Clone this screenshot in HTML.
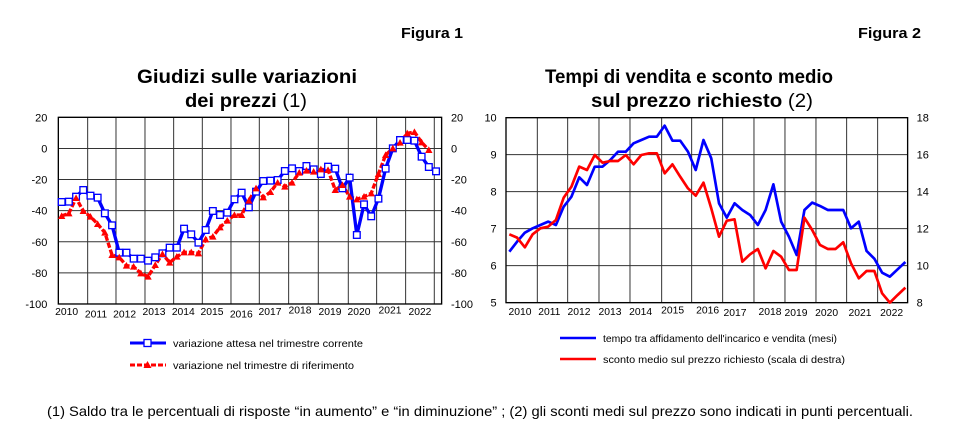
<!DOCTYPE html>
<html><head><meta charset="utf-8"><style>
body{margin:0;background:#fff;width:963px;height:443px;overflow:hidden;font-family:"Liberation Sans",Arial,sans-serif;}
svg{position:absolute;left:0;top:0}
</style></head><body>
<svg id="s" width="963" height="443" xmlns="http://www.w3.org/2000/svg" font-family="Liberation Sans, Arial, sans-serif">
<text x="401" y="38" font-size="15" font-weight="bold" textLength="62" lengthAdjust="spacingAndGlyphs">Figura 1</text>
<text x="858" y="38" font-size="15" font-weight="bold" textLength="63" lengthAdjust="spacingAndGlyphs">Figura 2</text>
<text x="137" y="83" font-size="19" font-weight="bold" textLength="220" lengthAdjust="spacingAndGlyphs">Giudizi sulle variazioni</text>
<text x="185" y="107" font-size="19" textLength="122" lengthAdjust="spacingAndGlyphs"><tspan font-weight="bold">dei prezzi </tspan>(1)</text>
<text x="545" y="83" font-size="19" font-weight="bold" textLength="288" lengthAdjust="spacingAndGlyphs">Tempi di vendita e sconto medio</text>
<text x="591" y="107" font-size="19" textLength="222" lengthAdjust="spacingAndGlyphs"><tspan font-weight="bold">sul prezzo richiesto </tspan>(2)</text>
<g id="L" transform="translate(20,100) scale(0.3333)"></g>
<g id="R" transform="translate(480,100) scale(0.3333)"></g>
<line x1="130" y1="343" x2="166" y2="343" stroke="#00f" stroke-width="3"/>
<rect x="144" y="339.5" width="7" height="7" fill="#fff" stroke="#00f" stroke-width="1.3"/>
<text x="173" y="347" font-size="10.5" textLength="190" lengthAdjust="spacingAndGlyphs">variazione attesa nel trimestre corrente</text>
<line x1="130" y1="365" x2="166" y2="365" stroke="#f00" stroke-width="3" stroke-dasharray="5,2"/>
<polygon points="147.5,361 151.5,368 143.5,368" fill="#f00"/>
<text x="173" y="369" font-size="10.5" textLength="181" lengthAdjust="spacingAndGlyphs">variazione nel trimestre di riferimento</text>
<line x1="560" y1="338" x2="596" y2="338" stroke="#00f" stroke-width="2.5"/>
<text x="603" y="342" font-size="10.5" textLength="234" lengthAdjust="spacingAndGlyphs">tempo tra affidamento dell'incarico e vendita (mesi)</text>
<line x1="560" y1="359" x2="596" y2="359" stroke="#f00" stroke-width="2.5"/>
<text x="603" y="363" font-size="10.5" textLength="242" lengthAdjust="spacingAndGlyphs">sconto medio sul prezzo richiesto (scala di destra)</text>
<text x="47" y="416" font-size="14" textLength="866" lengthAdjust="spacingAndGlyphs">(1) Saldo tra le percentuali di risposte “in aumento” e “in diminuzione” ; (2) gli sconti medi sul prezzo sono indicati in punti percentuali.</text>
</svg>
<script>
var NS="http://www.w3.org/2000/svg";
function el(p,t,a,txt){var e=document.createElementNS(NS,t);for(var k in a)e.setAttribute(k,a[k]);if(txt!==undefined)e.textContent=txt;p.appendChild(e);return e;}
var L=document.getElementById("L");
var lx0=115,lx1=1265,ly0=52,ly1=612;
var vg=[203,288,375,461,547,633,718,806,895,985,1070,1157,1243];
for(var i=0;i<7;i++){var y=ly0+i*(ly1-ly0)/6;el(L,"line",{x1:lx0,x2:lx1,y1:y,y2:y,stroke:"#333","stroke-width":3});
var v=20-20*i;el(L,"text",{x:82,y:y+12,"font-size":33,"text-anchor":"end"},v);el(L,"text",{x:1293,y:y+12,"font-size":33},v);}
vg.forEach(function(x){el(L,"line",{x1:x,x2:x,y1:ly0,y2:ly1,stroke:"#333","stroke-width":3});});
el(L,"rect",{x:lx0,y:ly0,width:lx1-lx0,height:ly1-ly0,fill:"none",stroke:"#000","stroke-width":4});
var yrsL=[[140,645],[228,652],[314,652],[402,645],[490,645],[576,645],[664,652],[750,645],[840,640],[930,645],[1017,645],[1110,640],[1200,645]];
yrsL.forEach(function(p,i){el(L,"text",{x:p[0],y:p[1],"font-size":31,"text-anchor":"middle"},2010+i);});
var bl=[306,305,290,270,287,293,340,376,458,458,476,476,482,472,460,443,443,386,403,428,390,333,345,338,298,278,322,275,243,242,240,213,205,213,198,208,222,200,206,265,233,405,313,349,296,206,145,120,120,122,170,201,214];
var rd=[348,340,294,333,350,372,398,465,472,497,500,520,530,495,462,488,470,457,457,460,418,410,382,362,345,345,302,265,292,276,248,260,248,218,212,215,208,210,270,255,290,298,290,280,222,165,145,128,100,96,127,150];
function lx(i){return 125+21.6*i;}
el(L,"polyline",{points:rd.map(function(y,i){return lx(i)+","+y;}).join(" "),fill:"none",stroke:"#f00","stroke-width":10,"stroke-dasharray":"16,6"});
el(L,"polyline",{points:bl.map(function(y,i){return lx(i)+","+y;}).join(" "),fill:"none",stroke:"#00f","stroke-width":10});
bl.forEach(function(y,i){el(L,"rect",{x:lx(i)-10,y:y-10,width:20,height:20,fill:"#fff",stroke:"#00f","stroke-width":4});});
rd.forEach(function(y,i){var x=lx(i);el(L,"polygon",{points:x+","+(y-11)+" "+(x+11)+","+(y+9)+" "+(x-11)+","+(y+9),fill:"#f00"});});
var R=document.getElementById("R");
var rx0=78,rx1=1283,ry0=53,ry1=608;
var vgR=[172,263,357,450,545,635,728,822,915,1008,1100,1193];
for(var i=0;i<6;i++){var y=ry0+i*(ry1-ry0)/5;el(R,"line",{x1:rx0,x2:rx1,y1:y,y2:y,stroke:"#333","stroke-width":3});
el(R,"text",{x:50,y:y+12,"font-size":33,"text-anchor":"end"},10-i);el(R,"text",{x:1310,y:y+12,"font-size":33},18-2*i);}
vgR.forEach(function(x){el(R,"line",{x1:x,x2:x,y1:ry0,y2:ry1,stroke:"#333","stroke-width":3});});
el(R,"rect",{x:rx0,y:ry0,width:rx1-rx0,height:ry1-ry0,fill:"none",stroke:"#000","stroke-width":4});
var yrsR=[[120,645],[208,645],[297,645],[390,645],[482,645],[578,640],[683,640],[765,648],[870,645],[948,648],[1040,648],[1140,648],[1235,648]];
yrsR.forEach(function(p,i){el(R,"text",{x:p[0],y:p[1],"font-size":31,"text-anchor":"middle"},2010+i);});
var bR=[455,425,398,385,375,365,375,320,290,232,255,200,200,180,155,155,130,120,110,110,77,122,122,155,210,120,175,310,353,310,330,345,375,330,253,365,410,465,330,308,318,330,330,330,385,365,453,476,518,530,508,486];
var rR=[403,413,442,403,385,380,360,293,260,200,210,165,188,183,183,165,193,165,160,160,220,193,230,265,287,248,325,410,362,358,485,463,447,505,453,470,510,510,353,390,435,447,447,427,490,535,513,513,580,608,585,563];
function rx(i){return 88+23.3*i;}
el(R,"polyline",{points:bR.map(function(y,i){return rx(i)+","+y;}).join(" "),fill:"none",stroke:"#00f","stroke-width":8,"stroke-linejoin":"round"});
el(R,"polyline",{points:rR.map(function(y,i){return rx(i)+","+y;}).join(" "),fill:"none",stroke:"#f00","stroke-width":8,"stroke-linejoin":"round"});
</script>
</body></html>
